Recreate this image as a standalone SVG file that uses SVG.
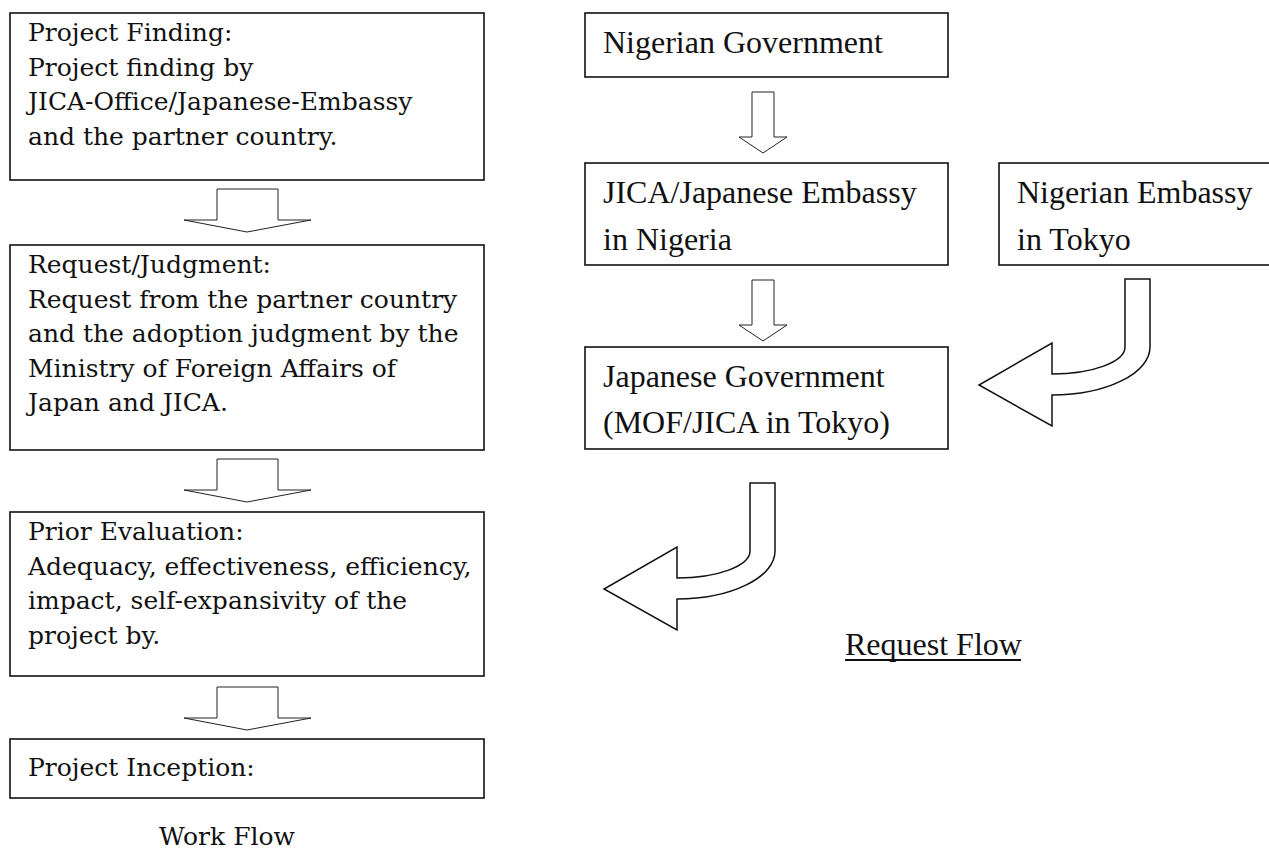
<svg xmlns="http://www.w3.org/2000/svg" width="1269" height="851" viewBox="0 0 1269 851">
<style>
.box{fill:#fff;stroke:#111;stroke-width:1.6}
.la{font-family:"DejaVu Serif","Liberation Serif",serif;font-size:25px;fill:#111}
.ra{font-family:"Liberation Serif","Times New Roman",serif;font-size:32px;fill:#111}
.arr{fill:#fff;stroke:#222;stroke-width:1}
.carr{fill:#fff;stroke:#111;stroke-width:1.5}
</style>
<defs>
<path id="downL" d="M217,0 L278,0 L278,31 L311,31 L247,43 L184,31 L217,31 Z"/>
<path id="downR" d="M752,0 L774,0 L774,45 L787,45 L763,61 L739,45 L752,45 Z"/>
<path id="curve" d="M1125,279 L1150,279 L1150,347 A98,48 0 0 1 1052,395 L1052,426 L979,385 L1052,343 L1052,374 A73,27 0 0 0 1125,347 Z"/>
</defs>
<g id="connectors">
<use href="#downL" class="arr" transform="translate(0,189)"/>
<use href="#downL" class="arr" transform="translate(0,459)"/>
<use href="#downL" class="arr" transform="translate(0,687)"/>
<use href="#downR" class="arr" transform="translate(0,92)"/>
<use href="#downR" class="arr" transform="translate(0,280)"/>
<use href="#curve" class="carr"/>
<use href="#curve" class="carr" transform="translate(-375,204)"/>
</g>
<g id="project-finding">
<rect class="box" x="10" y="13" width="474" height="167"/>
<text class="la" x="28" y="41">Project Finding:</text>
<text class="la" x="28" y="75.5">Project finding by</text>
<text class="la" x="28" y="110">JICA-Office/Japanese-Embassy</text>
<text class="la" x="28" y="144.5">and the partner country.</text>
</g>
<g id="request-judgment">
<rect class="box" x="10" y="245" width="474" height="205"/>
<text class="la" x="28" y="273">Request/Judgment:</text>
<text class="la" x="28" y="307.5">Request from the partner country</text>
<text class="la" x="28" y="342">and the adoption judgment by the</text>
<text class="la" x="28" y="376.5">Ministry of Foreign Affairs of</text>
<text class="la" x="28" y="411">Japan and JICA.</text>
</g>
<g id="prior-evaluation">
<rect class="box" x="10" y="512" width="474" height="164"/>
<text class="la" x="28" y="540">Prior Evaluation:</text>
<text class="la" x="28" y="574.5">Adequacy, effectiveness, efficiency,</text>
<text class="la" x="28" y="609">impact, self-expansivity of the</text>
<text class="la" x="28" y="643.5">project by.</text>
</g>
<g id="project-inception">
<rect class="box" x="10" y="739" width="474" height="59"/>
<text class="la" x="28" y="776">Project Inception:</text>
</g>
<g id="work-flow-label">
<text class="la" x="227" y="845" text-anchor="middle">Work Flow</text>
</g>
<g id="nigerian-government">
<rect class="box" x="585" y="13" width="363" height="64"/>
<text class="ra" x="603" y="53">Nigerian Government</text>
</g>
<g id="jica-embassy">
<rect class="box" x="585" y="163" width="363" height="102"/>
<text class="ra" x="603" y="203">JICA/Japanese Embassy</text>
<text class="ra" x="603" y="250">in Nigeria</text>
</g>
<g id="nigerian-embassy">
<rect class="box" x="999" y="163" width="290" height="102"/>
<text class="ra" x="1017" y="203">Nigerian Embassy</text>
<text class="ra" x="1017" y="250">in Tokyo</text>
</g>
<g id="japanese-government">
<rect class="box" x="585" y="347" width="363" height="102"/>
<text class="ra" x="603" y="387">Japanese Government</text>
<text class="ra" x="603" y="433">(MOF/JICA in Tokyo)</text>
</g>
<g id="request-flow-label">
<text class="ra" x="845" y="655">Request Flow</text>
<line x1="845" y1="660" x2="1021" y2="660" stroke="#111" stroke-width="2"/>
</g>
</svg>
